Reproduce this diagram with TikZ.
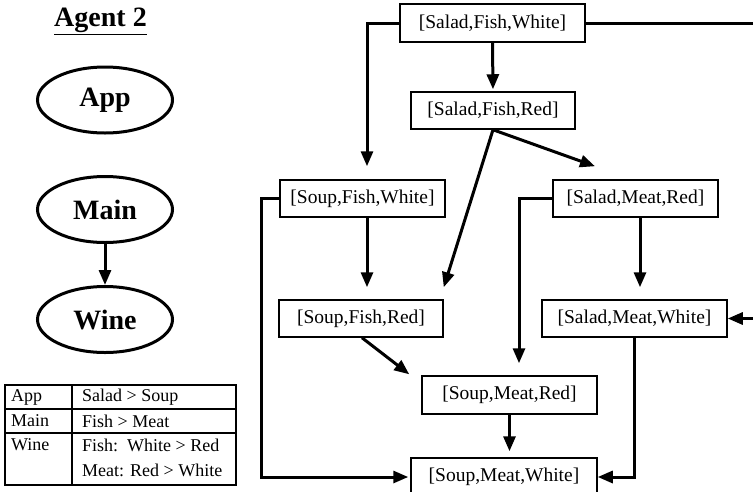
\documentclass[tikz,border=0pt]{standalone}
\usepackage{fontspec}
\setmainfont{Liberation Serif}
\usetikzlibrary{arrows.meta,shapes.geometric}
\begin{document}
\begin{tikzpicture}[x=1pt,y=-1pt,
  state/.style={draw,line width=1.5pt,minimum height=37pt,inner sep=0pt,font=\fontsize{19.5}{22}\selectfont},
  var/.style={draw,ellipse,line width=3pt,minimum width=135pt,minimum height=66pt,inner sep=0pt,font=\fontsize{28}{32}\selectfont\bfseries},
  conn/.style={line width=3pt,-{Triangle[length=15pt,width=12pt]}},
  plain/.style={line width=3pt},
  tbl/.style={anchor=west,inner sep=0pt,font=\fontsize{18}{20}\selectfont}]
\useasboundingbox (0,0) rectangle (753,491);
% left: agent graph
\node[font=\fontsize{28}{32}\selectfont\bfseries] (title) at (100.5,21) {\underline{Agent 2}};
\node[var] (app) at (105,100) {App};
\node[var] (main) at (105,209.5) {Main};
\node[var] (wine) at (105,319.5) {Wine};
\draw[conn] (main.south) -- (wine.north);
% table
\draw[line width=1.5pt] (5,385) rectangle (236,485);
\draw[line width=1.5pt] (72,385) -- (72,485);
\draw[line width=1.5pt] (5,409) -- (236,409);
\draw[line width=1.5pt] (5,433) -- (236,433);
\node[tbl] (t1) at (11,397) {App};
\node[tbl] (t2) at (11,421) {Main};
\node[tbl] (t3) at (11,445) {Wine};
\node[tbl] (t4) at (82,397) {Salad > Soup};
\node[tbl] (t5) at (82,421) {Fish > Meat};
\node[tbl] (t6) at (82,445) {Fish:\ \ White > Red};
\node[tbl] (t7) at (82,470) {Meat: Red > White};
% right: outcome graph
\node[state,minimum width=185pt,minimum height=38pt] (sfw) at (492.5,23) {[Salad,Fish,White]};
\node[state,minimum width=164pt] (sfr) at (493,110.5) {[Salad,Fish,Red]};
\node[state,minimum width=165pt] (soupfw) at (362.5,198.5) {[Soup,Fish,White]};
\node[state,minimum width=165pt] (saladmr) at (635.5,198.5) {[Salad,Meat,Red]};
\node[state,minimum width=164pt] (soupfr) at (361,318.5) {[Soup,Fish,Red]};
\node[state,minimum width=185pt] (saladmw) at (634.5,318.5) {[Salad,Meat,White]};
\node[state,minimum width=175pt,minimum height=38pt] (soupmr) at (509.5,395) {[Soup,Meat,Red]};
\node[state,minimum width=186pt,minimum height=38pt] (soupmw) at (504,477) {[Soup,Meat,White]};
\coordinate (r1) at (754,23);
\coordinate (r2) at (754,318.5);
\draw[conn,shorten >=13pt] (sfw.west) -| ([xshift=4.5pt]soupfw.north);
\draw[conn,shorten >=2pt] (sfw.south) -- (sfr.north);
\draw[plain] (sfw.east) -- (r1);
\draw[conn] (sfr.south) -- ([xshift=-40.5pt,yshift=13pt]saladmr.north);
\draw[conn] (sfr.south) -- ([yshift=12pt]soupfr.north east);
\draw[conn,shorten >=12pt] ([xshift=4.5pt]soupfw.south) -- ([xshift=6pt]soupfr.north);
\draw[conn,shorten >=12pt] (saladmr.west) -| ([xshift=9.5pt]soupmr.north);
\draw[conn,shorten >=12pt] ([xshift=4.5pt]saladmr.south) -- ([xshift=5.5pt]saladmw.north);
\draw[conn,shorten >=2pt] (soupfw.west) -- ++(-18,0) |- (soupmw.west);
\draw[conn] (saladmw.south) |- (soupmw.east);
\draw[conn] ([xshift=1pt]soupfr.south) -- ([xshift=-12pt,yshift=1pt]soupmr.north west);
\draw[conn,shorten >=6pt] (soupmr.south) -- ([xshift=5.5pt]soupmw.north);
\draw[conn] (r2) -- (saladmw.east);
\end{tikzpicture}
\end{document}
